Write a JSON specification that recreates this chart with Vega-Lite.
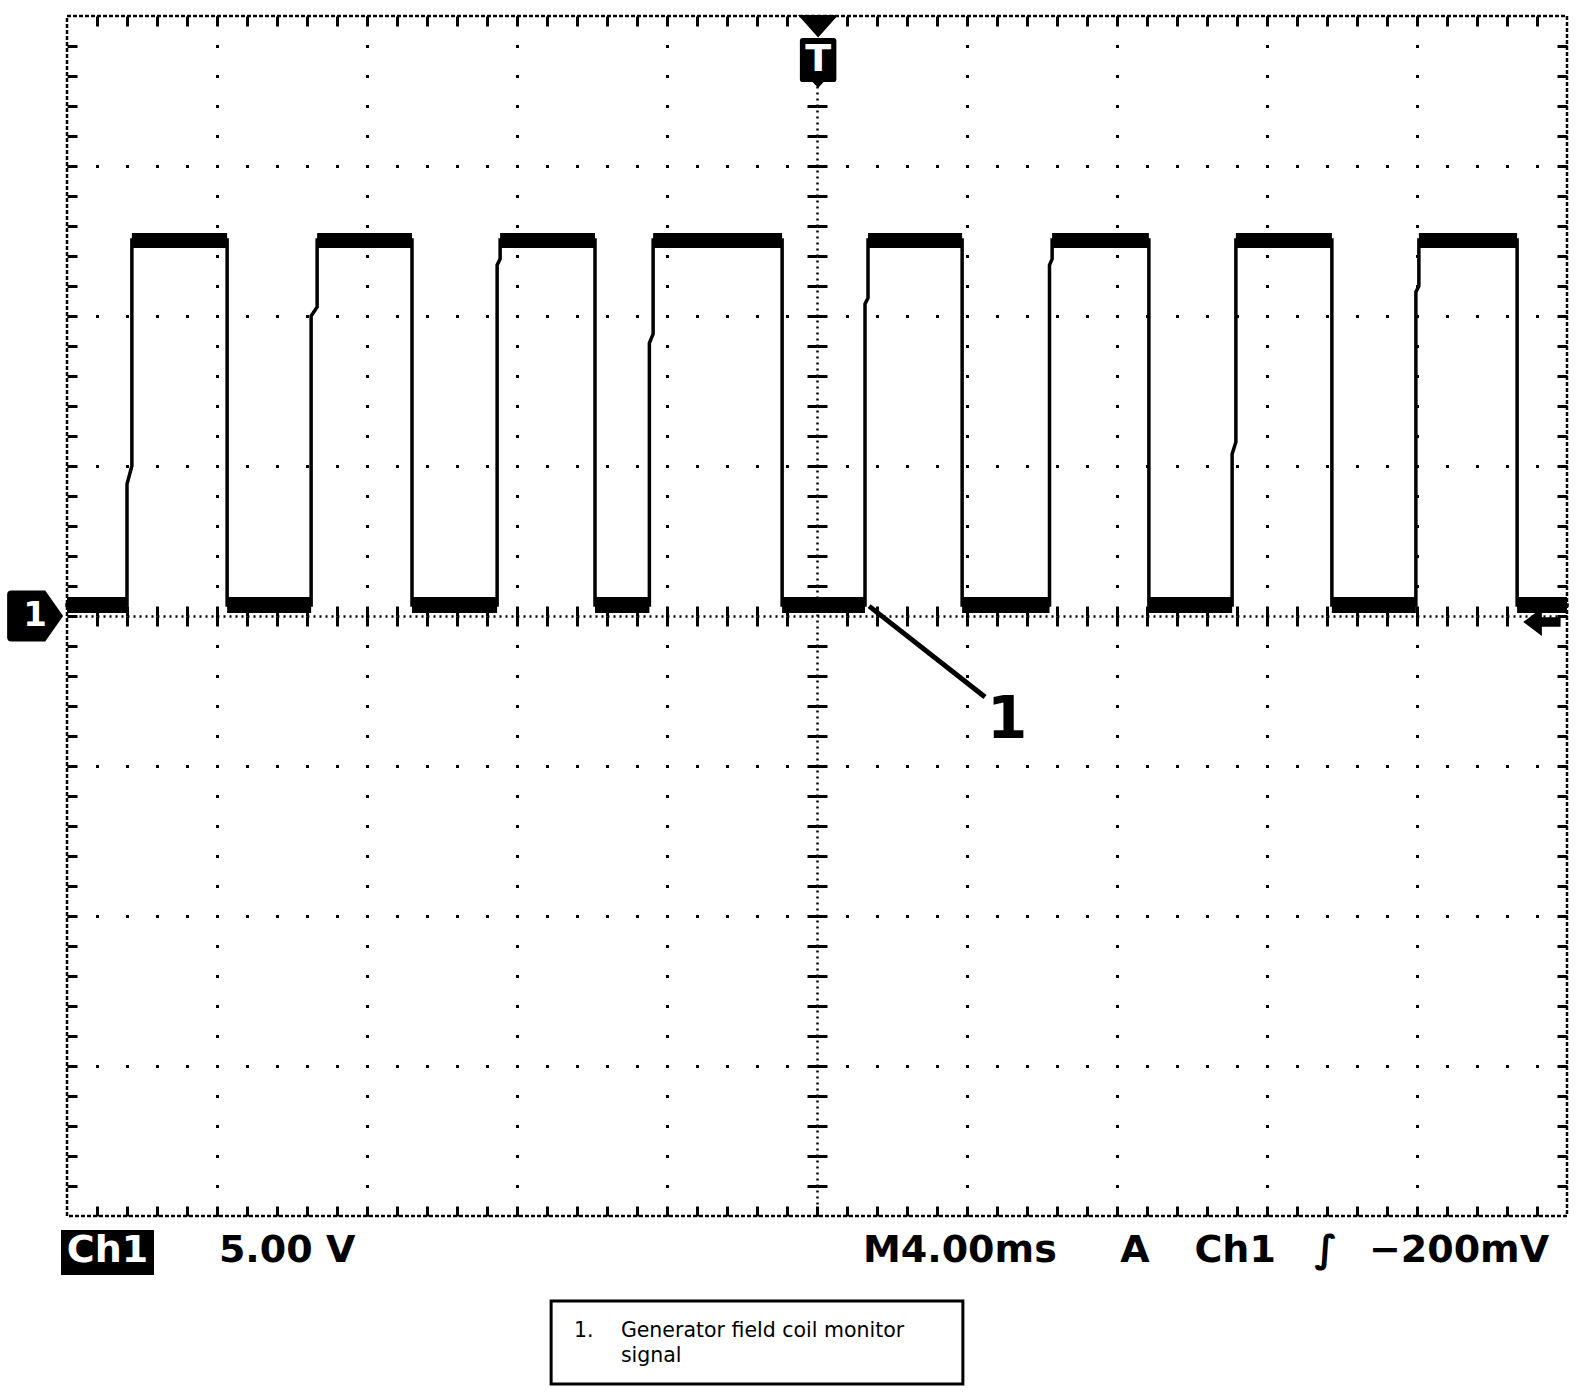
{
  "$schema": "https://vega.github.io/schema/vega-lite/v6.json",
  "width": 1500,
  "height": 1200,
  "autosize": {"type": "none"},
  "padding": {"left": 67, "top": 16, "right": 17, "bottom": 180},
  "background": "white",
  "config": {
    "view": {"stroke": "black", "strokeWidth": 2.5, "strokeDash": [4, 2]},
    "axis": {"labels": false, "grid": false, "ticks": false, "domain": false, "tickColor": "black", "domainColor": "black", "gridColor": "black"}
  },
  "datasets": {
    "trace": [
      {"i": 0, "t": -20, "v": 0.37}, {"i": 1, "t": -18.4, "v": 0.37}, {"i": 2, "t": -18.4, "v": 4.4}, {"i": 3, "t": -18.27, "v": 5.0}, {"i": 4, "t": -18.27, "v": 12.53},
      {"i": 5, "t": -15.73, "v": 12.53}, {"i": 6, "t": -15.73, "v": 0.37},
      {"i": 7, "t": -13.49, "v": 0.37}, {"i": 8, "t": -13.49, "v": 10.0}, {"i": 9, "t": -13.33, "v": 10.3}, {"i": 10, "t": -13.33, "v": 12.53},
      {"i": 11, "t": -10.8, "v": 12.53}, {"i": 12, "t": -10.8, "v": 0.37},
      {"i": 13, "t": -8.53, "v": 0.37}, {"i": 14, "t": -8.53, "v": 11.7}, {"i": 15, "t": -8.45, "v": 11.9}, {"i": 16, "t": -8.45, "v": 12.53},
      {"i": 17, "t": -5.92, "v": 12.53}, {"i": 18, "t": -5.92, "v": 0.37},
      {"i": 19, "t": -4.47, "v": 0.37}, {"i": 20, "t": -4.47, "v": 9.1}, {"i": 21, "t": -4.37, "v": 9.4}, {"i": 22, "t": -4.37, "v": 12.53},
      {"i": 23, "t": -0.93, "v": 12.53}, {"i": 24, "t": -0.93, "v": 0.37},
      {"i": 25, "t": 1.28, "v": 0.37}, {"i": 26, "t": 1.28, "v": 10.4}, {"i": 27, "t": 1.36, "v": 10.6}, {"i": 28, "t": 1.36, "v": 12.53},
      {"i": 29, "t": 3.87, "v": 12.53}, {"i": 30, "t": 3.87, "v": 0.37},
      {"i": 31, "t": 6.2, "v": 0.37}, {"i": 32, "t": 6.2, "v": 11.7}, {"i": 33, "t": 6.27, "v": 11.9}, {"i": 34, "t": 6.27, "v": 12.53},
      {"i": 35, "t": 8.85, "v": 12.53}, {"i": 36, "t": 8.85, "v": 0.37},
      {"i": 37, "t": 11.07, "v": 0.37}, {"i": 38, "t": 11.07, "v": 5.4}, {"i": 39, "t": 11.17, "v": 5.8}, {"i": 40, "t": 11.17, "v": 12.53},
      {"i": 41, "t": 13.73, "v": 12.53}, {"i": 42, "t": 13.73, "v": 0.37},
      {"i": 43, "t": 15.97, "v": 0.37}, {"i": 44, "t": 15.97, "v": 10.8}, {"i": 45, "t": 16.05, "v": 11.0}, {"i": 46, "t": 16.05, "v": 12.53},
      {"i": 47, "t": 18.67, "v": 12.53}, {"i": 48, "t": 18.67, "v": 0.37}, {"i": 49, "t": 20, "v": 0.37}
    ],
    "bands": [
      {"t1": -20, "t2": -18.4, "lo": 0.1, "hi": 0.63},
      {"t1": -15.73, "t2": -13.49, "lo": 0.1, "hi": 0.63},
      {"t1": -10.8, "t2": -8.53, "lo": 0.1, "hi": 0.63},
      {"t1": -5.92, "t2": -4.47, "lo": 0.1, "hi": 0.63},
      {"t1": -0.93, "t2": 1.28, "lo": 0.1, "hi": 0.63},
      {"t1": 3.87, "t2": 6.2, "lo": 0.1, "hi": 0.63},
      {"t1": 8.85, "t2": 11.07, "lo": 0.1, "hi": 0.63},
      {"t1": 13.73, "t2": 15.97, "lo": 0.1, "hi": 0.63},
      {"t1": 18.67, "t2": 20, "lo": 0.1, "hi": 0.63},
      {"t1": -18.27, "t2": -15.73, "lo": 12.27, "hi": 12.77},
      {"t1": -13.33, "t2": -10.8, "lo": 12.27, "hi": 12.77},
      {"t1": -8.45, "t2": -5.92, "lo": 12.27, "hi": 12.77},
      {"t1": -4.37, "t2": -0.93, "lo": 12.27, "hi": 12.77},
      {"t1": 1.36, "t2": 3.87, "lo": 12.27, "hi": 12.77},
      {"t1": 6.27, "t2": 8.85, "lo": 12.27, "hi": 12.77},
      {"t1": 11.17, "t2": 13.73, "lo": 12.27, "hi": 12.77},
      {"t1": 16.05, "t2": 18.67, "lo": 12.27, "hi": 12.77}
    ],
    "pointer": [{"t": 1.39, "v": 0.33}, {"t": 4.48, "v": -2.7}],
    "label1": [{"t": 5.07, "v": -3.5, "label": "1"}],
    "tmarker": [{"t": 0.03, "v": 18.82}],
    "tlabel": [{"t": 0.03, "v": 18.53, "label": "T"}],
    "ground": [{"t": -20.85, "v": 0, "label": "1"}],
    "trigger": [{"t": 19.33, "v": -0.2}],
    "chbox": [{"t1": -20.16, "t2": -17.68, "v1": -20.47, "v2": -21.97}],
    "chtext": [{"t": -18.92, "v": -21.53, "label": "Ch1"}],
    "readout": [
      {"t": -14.13, "v": -21.53, "label": "5.00 V"},
      {"t": 3.81, "v": -21.53, "label": "M4.00ms"},
      {"t": 8.48, "v": -21.53, "label": "A"},
      {"t": 11.15, "v": -21.53, "label": "Ch1"},
      {"t": 13.57, "v": -21.53, "label": "∫"},
      {"t": 17.12, "v": -21.53, "label": "−200mV"}
    ],
    "legendbox": [{"t1": -7.09, "t2": 3.89, "v1": -22.83, "v2": -25.6}],
    "legendtext": [
      {"t": -6.48, "v": -23.83, "label": "1."},
      {"t": -5.23, "v": -23.83, "label": "Generator field coil monitor"},
      {"t": -5.23, "v": -24.67, "label": "signal"}
    ]
  },
  "resolve": {"axis": {"x": "independent", "y": "independent"}},
  "layer": [
    {
      "data": {"name": "bands"},
      "mark": {"type": "rect", "color": "black"},
      "encoding": {
        "x": {"field": "t1", "type": "quantitative", "scale": {"domain": [-20, 20], "nice": false, "zero": false},
              "axis": {"orient": "bottom", "title": null, "values": [-16, -12, -8, -4, 4, 8, 12, 16], "grid": true, "gridDash": [3, 27], "gridDashOffset": 1.5, "gridWidth": 3, "gridOpacity": 1, "gridColor": "black", "ticks": false, "labels": false, "domain": false}},
        "x2": {"field": "t2"},
        "y": {"field": "lo", "type": "quantitative", "scale": {"domain": [-20, 20], "nice": false, "zero": false},
              "axis": {"orient": "left", "title": null, "values": [-15, -10, -5, 5, 10, 15], "grid": true, "gridDash": [3, 27], "gridDashOffset": 1.5, "gridWidth": 3, "gridOpacity": 1, "gridColor": "black", "ticks": false, "labels": false, "domain": false}},
        "y2": {"field": "hi"}
      }
    },
    {
      "data": {"name": "trace"},
      "mark": {"type": "line", "color": "black", "strokeWidth": 3.5, "strokeCap": "square"},
      "encoding": {
        "x": {"field": "t", "type": "quantitative", "scale": {"domain": [-20, 20], "nice": false, "zero": false},
              "axis": {"orient": "bottom", "offset": -1200, "title": null, "values": [-19.2,-18.4,-17.6,-16.8,-16,-15.2,-14.4,-13.6,-12.8,-12,-11.2,-10.4,-9.6,-8.8,-8,-7.2,-6.4,-5.6,-4.8,-4,-3.2,-2.4,-1.6,-0.8,0,0.8,1.6,2.4,3.2,4,4.8,5.6,6.4,7.2,8,8.8,9.6,10.4,11.2,12,12.8,13.6,14.4,15.2,16,16.8,17.6,18.4,19.2], "ticks": true, "tickSize": 10, "tickWidth": 3, "tickColor": "black", "labels": false, "domain": false, "grid": false}},
        "y": {"field": "v", "type": "quantitative", "scale": {"domain": [-20, 20], "nice": false, "zero": false},
              "axis": {"orient": "right", "offset": -1500, "title": null, "values": [-19,-18,-17,-16,-15,-14,-13,-12,-11,-10,-9,-8,-7,-6,-5,-4,-3,-2,-1,0,1,2,3,4,5,6,7,8,9,10,11,12,13,14,15,16,17,18,19], "ticks": true, "tickSize": 10, "tickWidth": 3, "tickColor": "black", "labels": false, "domain": false, "grid": false}},
        "order": {"field": "i", "type": "quantitative"}
      }
    },
    {
      "data": {"name": "pointer"},
      "mark": {"type": "line", "color": "black", "strokeWidth": 5},
      "encoding": {
        "x": {"field": "t", "type": "quantitative", "scale": {"domain": [-20, 20], "nice": false, "zero": false},
              "axis": {"orient": "top", "offset": -1200, "title": null, "values": [-19.2,-18.4,-17.6,-16.8,-16,-15.2,-14.4,-13.6,-12.8,-12,-11.2,-10.4,-9.6,-8.8,-8,-7.2,-6.4,-5.6,-4.8,-4,-3.2,-2.4,-1.6,-0.8,0,0.8,1.6,2.4,3.2,4,4.8,5.6,6.4,7.2,8,8.8,9.6,10.4,11.2,12,12.8,13.6,14.4,15.2,16,16.8,17.6,18.4,19.2], "ticks": true, "tickSize": 10, "tickWidth": 3, "tickColor": "black", "labels": false, "domain": false, "grid": false}},
        "y": {"field": "v", "type": "quantitative", "scale": {"domain": [-20, 20], "nice": false, "zero": false},
              "axis": {"orient": "left", "offset": -1500, "title": null, "values": [-19,-18,-17,-16,-15,-14,-13,-12,-11,-10,-9,-8,-7,-6,-5,-4,-3,-2,-1,0,1,2,3,4,5,6,7,8,9,10,11,12,13,14,15,16,17,18,19], "ticks": true, "tickSize": 10, "tickWidth": 3, "tickColor": "black", "labels": false, "domain": false, "grid": false}}
      }
    },
    {
      "data": {"name": "label1"},
      "mark": {"type": "text", "font": "DejaVu Sans", "fontWeight": "bold", "fontSize": 58, "color": "black", "align": "center", "baseline": "middle"},
      "encoding": {
        "x": {"field": "t", "type": "quantitative", "scale": {"domain": [-20, 20], "nice": false, "zero": false},
              "axis": {"orient": "bottom", "offset": -600, "title": null, "values": [-19.2,-18.4,-17.6,-16.8,-16,-15.2,-14.4,-13.6,-12.8,-12,-11.2,-10.4,-9.6,-8.8,-8,-7.2,-6.4,-5.6,-4.8,-4,-3.2,-2.4,-1.6,-0.8,0.8,1.6,2.4,3.2,4,4.8,5.6,6.4,7.2,8,8.8,9.6,10.4,11.2,12,12.8,13.6,14.4,15.2,16,16.8,17.6,18.4,19.2], "ticks": true, "tickSize": 10, "tickWidth": 3, "tickColor": "black", "labels": false, "domain": true, "domainDash": [2, 4], "domainWidth": 2.5, "domainColor": "black", "grid": false}},
        "y": {"field": "v", "type": "quantitative", "scale": {"domain": [-20, 20], "nice": false, "zero": false},
              "axis": {"orient": "left", "offset": -750, "title": null, "values": [-19,-18,-17,-16,-15,-14,-13,-12,-11,-10,-9,-8,-7,-6,-5,-4,-3,-2,-1,1,2,3,4,5,6,7,8,9,10,11,12,13,14,15,16,17,18,19], "ticks": true, "tickSize": 10, "tickWidth": 3, "tickColor": "black", "labels": false, "domain": true, "domainDash": [2, 4], "domainWidth": 2.5, "domainColor": "black", "grid": false}},
        "text": {"field": "label"}
      }
    },
    {
      "data": {"name": "tmarker"},
      "mark": {"type": "point", "filled": true, "color": "black", "opacity": 1, "size": 5329,
               "shape": "M-0.55,-1 L0.55,-1 L0,-0.38 Z M-0.42,-0.37 L0.42,-0.37 Q0.5,-0.37 0.5,-0.29 L0.5,0.76 Q0.5,0.84 0.42,0.84 L0.15,0.84 L0,1 L-0.15,0.84 L-0.42,0.84 Q-0.5,0.84 -0.5,0.76 L-0.5,-0.29 Q-0.5,-0.37 -0.42,-0.37 Z"},
      "encoding": {
        "x": {"field": "t", "type": "quantitative", "scale": {"domain": [-20, 20], "nice": false, "zero": false},
              "axis": {"orient": "top", "offset": -600, "title": null, "values": [-19.2,-18.4,-17.6,-16.8,-16,-15.2,-14.4,-13.6,-12.8,-12,-11.2,-10.4,-9.6,-8.8,-8,-7.2,-6.4,-5.6,-4.8,-4,-3.2,-2.4,-1.6,-0.8,0.8,1.6,2.4,3.2,4,4.8,5.6,6.4,7.2,8,8.8,9.6,10.4,11.2,12,12.8,13.6,14.4,15.2,16,16.8,17.6,18.4,19.2], "ticks": true, "tickSize": 10, "tickWidth": 3, "tickColor": "black", "labels": false, "domain": false, "grid": false}},
        "y": {"field": "v", "type": "quantitative", "scale": {"domain": [-20, 20], "nice": false, "zero": false},
              "axis": {"orient": "right", "offset": -750, "title": null, "values": [-19,-18,-17,-16,-15,-14,-13,-12,-11,-10,-9,-8,-7,-6,-5,-4,-3,-2,-1,1,2,3,4,5,6,7,8,9,10,11,12,13,14,15,16,17,18,19], "ticks": true, "tickSize": 10, "tickWidth": 3, "tickColor": "black", "labels": false, "domain": false, "grid": false}}
      }
    },
    {
      "data": {"name": "tlabel"},
      "mark": {"type": "text", "font": "DejaVu Sans", "fontWeight": "bold", "fontSize": 38, "color": "white", "align": "center", "baseline": "middle"},
      "encoding": {
        "x": {"field": "t", "type": "quantitative", "axis": null},
        "y": {"field": "v", "type": "quantitative", "axis": null},
        "text": {"field": "label"}
      }
    },
    {
      "data": {"name": "ground"},
      "mark": {"type": "point", "filled": true, "color": "black", "opacity": 1, "size": 3136,
               "shape": "M-0.85,-0.91 L0.36,-0.91 L1,0 L0.36,0.91 L-0.85,0.91 Q-1,0.91 -1,0.76 L-1,-0.76 Q-1,-0.91 -0.85,-0.91 Z"},
      "encoding": {
        "x": {"field": "t", "type": "quantitative", "axis": null},
        "y": {"field": "v", "type": "quantitative", "axis": null}
      }
    },
    {
      "data": {"name": "ground"},
      "mark": {"type": "text", "font": "DejaVu Sans", "fontWeight": "bold", "fontSize": 34, "color": "white", "align": "center", "baseline": "middle"},
      "encoding": {
        "x": {"field": "t", "type": "quantitative", "axis": null},
        "y": {"field": "v", "type": "quantitative", "axis": null},
        "text": {"field": "label"}
      }
    },
    {
      "data": {"name": "trigger"},
      "mark": {"type": "point", "filled": true, "color": "black", "opacity": 1, "size": 1400,
               "shape": "M-1,0 L0,-0.75 L0,-0.25 L1,-0.25 L1,0.25 L0,0.25 L0,0.75 Z"},
      "encoding": {
        "x": {"field": "t", "type": "quantitative", "axis": null},
        "y": {"field": "v", "type": "quantitative", "axis": null}
      }
    },
    {
      "data": {"name": "chbox"},
      "mark": {"type": "rect", "color": "black"},
      "encoding": {
        "x": {"field": "t1", "type": "quantitative", "axis": null},
        "x2": {"field": "t2"},
        "y": {"field": "v1", "type": "quantitative", "axis": null},
        "y2": {"field": "v2"}
      }
    },
    {
      "data": {"name": "chtext"},
      "mark": {"type": "text", "font": "DejaVu Sans", "fontWeight": "bold", "fontSize": 38, "color": "white", "align": "center", "baseline": "alphabetic"},
      "encoding": {
        "x": {"field": "t", "type": "quantitative", "axis": null},
        "y": {"field": "v", "type": "quantitative", "axis": null},
        "text": {"field": "label"}
      }
    },
    {
      "data": {"name": "readout"},
      "mark": {"type": "text", "font": "DejaVu Sans", "fontWeight": "bold", "fontSize": 38, "color": "black", "align": "center", "baseline": "alphabetic"},
      "encoding": {
        "x": {"field": "t", "type": "quantitative", "axis": null},
        "y": {"field": "v", "type": "quantitative", "axis": null},
        "text": {"field": "label"}
      }
    },
    {
      "data": {"name": "legendbox"},
      "mark": {"type": "rect", "fill": "white", "stroke": "black", "strokeWidth": 3},
      "encoding": {
        "x": {"field": "t1", "type": "quantitative", "axis": null},
        "x2": {"field": "t2"},
        "y": {"field": "v1", "type": "quantitative", "axis": null},
        "y2": {"field": "v2"}
      }
    },
    {
      "data": {"name": "legendtext"},
      "mark": {"type": "text", "font": "DejaVu Sans", "fontSize": 20.5, "color": "black", "align": "left", "baseline": "middle"},
      "encoding": {
        "x": {"field": "t", "type": "quantitative", "axis": null},
        "y": {"field": "v", "type": "quantitative", "axis": null},
        "text": {"field": "label"}
      }
    }
  ]
}
